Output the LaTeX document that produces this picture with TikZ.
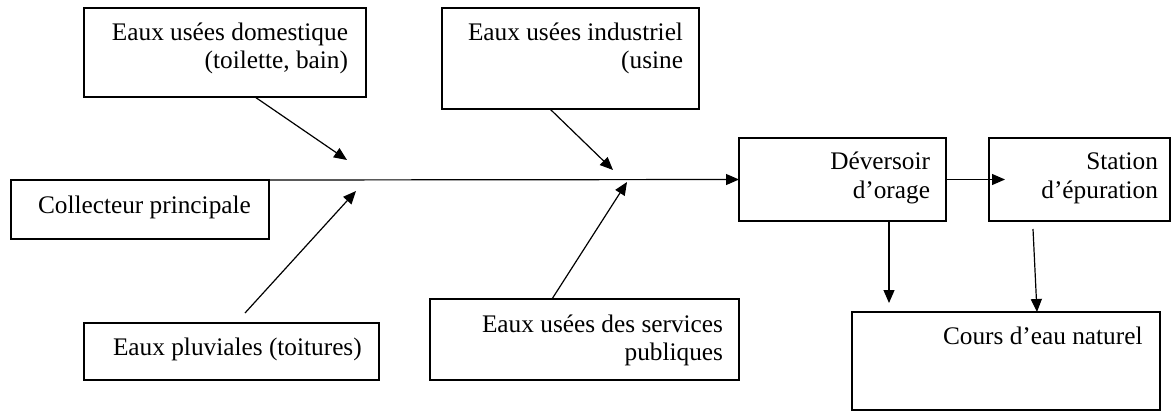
\documentclass[tikz,border=0pt]{standalone}
\usepackage{fontspec}
\setmainfont{Liberation Serif}
\usetikzlibrary{arrows.meta}
\tikzset{
  box/.style={draw, line width=1.5pt, inner sep=0pt, outer sep=0pt},
  lbl/.style={inner sep=0pt, outer sep=0pt, font=\fontsize{25.3}{29}\selectfont},
  flow/.style={line width=1.2pt, -{Triangle[length=13pt,width=11pt]}}
}
\begin{document}
\begin{tikzpicture}[x=1pt,y=-1pt]
\useasboundingbox (0,0) rectangle (1172,412);

% boxes
\node[box, minimum width=282pt, minimum height=89pt]  (dom) at (225,52.5) {};
\node[box, minimum width=257pt, minimum height=101pt] (ind) at (570.5,58.5) {};
\node[box, minimum width=258pt, minimum height=59pt]  (col) at (140,209.5) {};
\node[box, minimum width=295pt, minimum height=57pt]  (plu) at (231.5,351.5) {};
\node[box, minimum width=309pt, minimum height=81pt]  (ser) at (584.5,339.5) {};
\node[box, minimum width=207pt, minimum height=83pt]  (dev) at (842.5,179.5) {};
\node[box, minimum width=181pt, minimum height=83pt]  (sta) at (1079.5,179.5) {};
\node[box, minimum width=308pt, minimum height=98pt]  (cou) at (1006,361) {};

% labels
\node[lbl, anchor=base east] (dom1) at (348,40.5) {Eaux usées domestique};
\node[lbl, anchor=base east] (dom2) at (348,69) {(toilette, bain)};
\node[lbl, anchor=base east] (ind1) at (683,40.5) {Eaux usées industriel};
\node[lbl, anchor=base east] (ind2) at (683,69) {(usine};
\node[lbl, anchor=base west] (col1) at (38,213) {Collecteur principale};
\node[lbl, anchor=base west] (plu1) at (113,355) {Eaux pluviales (toitures)};
\node[lbl, anchor=base east] (ser1) at (723,332) {Eaux usées des services};
\node[lbl, anchor=base east] (ser2) at (723,360.5) {publiques};
\node[lbl, anchor=base east] (dev1) at (930,169) {Déversoir};
\node[lbl, anchor=base east] (dev2) at (930,198) {d’orage};
\node[lbl, anchor=base east] (sta1) at (1158,169) {Station};
\node[lbl, anchor=base east] (sta2) at (1158,198) {d’épuration};
\node[lbl, anchor=base west] (cou1) at (943,344) {Cours d’eau naturel};

% arrow tips meeting the main collector
\coordinate (t1) at (347,160);
\coordinate (t2) at (356,191);
\coordinate (t3) at (613,170);
\coordinate (t4) at (627,182);
\coordinate (t5) at (889,303);

% connectors
\draw[flow] (col.north east) -- (dev.west);
\draw[flow] ([xshift=30pt]dom.south) -- (t1);
\draw[flow] ([xshift=13.5pt,yshift=10pt]plu.north) -- (t2);
\draw[flow] ([xshift=-20.5pt]ind.south) -- (t3);
\draw[flow] ([xshift=-32.5pt]ser.north) -- (t4);
\draw[flow] (dev.east) -- ([xshift=16pt]sta.west);
\draw[flow] ([xshift=46.5pt]dev.south) -- (t5);
\draw[flow] ([xshift=-46.5pt,yshift=-8pt]sta.south) -- ([xshift=31pt]cou.north);
\end{tikzpicture}
\end{document}
